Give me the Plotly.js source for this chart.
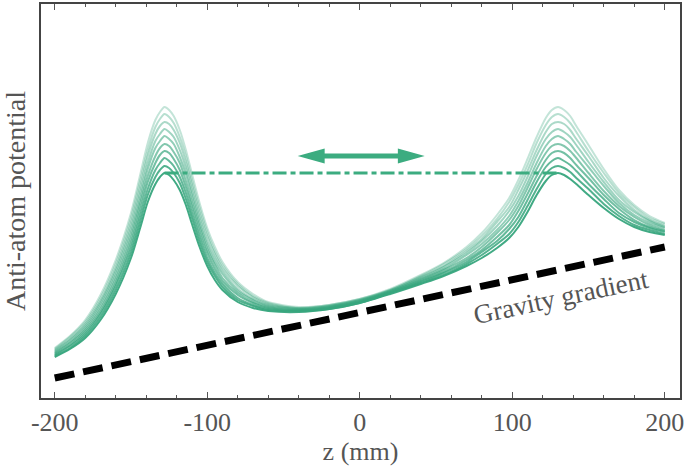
<!DOCTYPE html>
<html>
<head>
<meta charset="utf-8">
<script src="https://cdn.plot.ly/plotly-3.0.1.min.js"></script>
<style>html,body{margin:0;padding:0;background:#fff;}#chart{width:699px;height:471px;}</style>
</head>
<body>
<div id="chart"></div>
<script>
// z positions (mm)
const zGrid = [-200,-190,-180,-170,-160,-150,-144,-139,-134,-131,-128,-125,-122,-118,-114,-110,-105,-100,-95,-90,-80,-70,-60,-40,-20,0,20,40,55,70,80,90,98,104,110,116,122,126,130,134,138,142,150,160,170,180,190,200];

// anti-atom potential (arbitrary units), one array per trap depth, lowest first
const potential0 = [41,49,60,78,104,140,170,196,214,221,225,223,218,208,193,174,151,132,118,108,96,90,87,86,89,95,104,114,122,132,140,150,160,171,186,203,217,223,225,223,219,214,203,190,179,171,166,163];
const potential1 = [42,50,62,81,108,145,176,203,221,228,232,230,225,215,199,180,156,136,122,111,98,92,88,87,89,95,105,115,123,134,143,154,164,176,192,209,224,230,232,230,226,220,209,194,182,173,168,164];
const potential2 = [43,52,64,84,112,150,182,209,228,235,240,237,232,221,205,185,161,140,125,114,100,93,89,87,90,96,105,116,125,136,146,157,169,181,198,216,231,237,240,237,233,227,214,199,185,176,170,166];
const potential3 = [44,53,66,86,115,155,188,216,235,243,247,245,239,228,211,191,166,145,129,117,103,95,90,88,90,96,106,117,126,138,148,161,173,187,204,222,238,245,247,245,240,233,220,203,189,178,171,167];
const potential4 = [45,55,68,89,119,160,194,222,242,250,254,252,246,235,217,196,171,149,133,120,105,96,91,88,91,97,106,118,128,140,151,165,178,192,210,229,245,252,254,252,247,240,225,207,192,181,173,168];
const potential5 = [46,56,70,92,123,165,199,229,250,257,262,259,254,241,224,202,175,153,136,124,107,98,92,89,91,97,107,119,129,143,154,168,182,197,215,235,252,259,262,259,254,246,231,212,195,183,175,170];
const potential6 = [47,58,72,95,127,170,205,235,257,264,269,266,261,248,230,207,180,157,140,127,109,99,93,89,92,98,107,120,131,145,157,172,187,202,221,242,259,266,269,266,261,253,236,216,198,186,177,171];
const potential7 = [48,59,74,97,130,175,211,242,264,272,276,274,268,255,236,213,185,162,144,130,112,101,94,90,92,98,108,121,132,147,159,176,191,208,227,248,266,274,276,274,268,259,242,220,202,188,178,172];
const potential8 = [49,61,76,100,134,180,217,248,271,279,284,281,275,261,242,218,190,166,147,133,114,102,95,90,93,99,108,122,134,149,162,179,196,213,233,255,273,281,284,281,275,266,247,225,205,191,180,174];
const potential9 = [50,62,78,103,138,185,223,255,278,286,291,288,282,268,248,224,195,170,151,136,116,104,96,91,93,99,109,123,135,151,165,183,200,218,239,261,280,288,291,288,282,272,253,229,208,193,182,175];

// gravity gradient (dashed line)
const gravityZ = [-200, 200];
const gravityY = [20, 151];

// trapped level (dash-dot line)
const levelZ = [-128, 130];
const levelY = [225, 225];

// axis ticks
const xTickVals = [-200, -100, 0, 100, 200];
const xTickText = ['-200', '-100', '0', '100', '200'];

const potentials = [potential0, potential1, potential2, potential3, potential4,
                    potential5, potential6, potential7, potential8, potential9];
const opacities = [0.95, 0.86, 0.78, 0.7, 0.62, 0.55, 0.48, 0.42, 0.36, 0.3];
const green = 'rgb(55,165,125)';
const serif = 'Liberation Serif, Times New Roman, serif';
const gray = '#555555';

const traces = [];
for (let k = potentials.length - 1; k >= 0; k--) {
  traces.push({
    x: zGrid, y: potentials[k], type: 'scatter', mode: 'lines',
    line: {color: green, width: 2, shape: 'spline', smoothing: 0.8},
    opacity: opacities[k], hoverinfo: 'skip', showlegend: false
  });
}
traces.push({
  x: levelZ, y: levelY, type: 'scatter', mode: 'lines',
  line: {color: 'rgb(60,172,128)', width: 3, dash: '14px,4px,5px,4px'},
  showlegend: false, hoverinfo: 'skip'
});
traces.push({
  x: gravityZ, y: gravityY, type: 'scatter', mode: 'lines',
  line: {color: '#000000', width: 7, dash: '20px,9px'},
  showlegend: false, hoverinfo: 'skip'
});

const layout = {
  width: 699, height: 471,
  margin: {l: 41, r: 19, t: 4, b: 73},
  paper_bgcolor: '#ffffff', plot_bgcolor: '#ffffff',
  showlegend: false,
  xaxis: {
    range: [-209, 210],
    tickvals: xTickVals, ticktext: xTickText,
    ticks: 'inside', ticklen: 6, tickwidth: 1, tickcolor: gray,
    minor: {dtick: 20, ticks: 'inside', ticklen: 3, tickcolor: gray, tickwidth: 1},
    showline: true, linecolor: '#444444', linewidth: 2, mirror: 'allticks',
    showgrid: false, zeroline: false,
    tickfont: {family: serif, size: 26, color: gray},
    title: {text: 'z (mm)', font: {family: serif, size: 26, color: gray}, standoff: 1}
  },
  yaxis: {
    range: [0, 394],
    showticklabels: false, ticks: '',
    showline: true, linecolor: '#444444', linewidth: 2, mirror: true,
    showgrid: false, zeroline: false,
    title: {text: 'Anti-atom potential', font: {family: serif, size: 28, color: gray}, standoff: 5}
  },
  shapes: [{
    type: 'path', xref: 'x', yref: 'y',
    path: 'M -40.7,242 L -23,249.5 L -23,244.5 L 25,244.5 L 25,249.5 L 42.6,242 L 25,234.5 L 25,239.5 L -23,239.5 L -23,234.5 Z',
    fillcolor: 'rgb(60,172,128)', line: {width: 0}
  }],
  annotations: [{
    text: 'Gravity gradient', x: 132, y: 101, xref: 'x', yref: 'y',
    showarrow: false, textangle: -12,
    font: {family: serif, size: 27, color: gray}
  }]
};

Plotly.newPlot('chart', traces, layout, {staticPlot: true, displayModeBar: false});
</script>
</body>
</html>
